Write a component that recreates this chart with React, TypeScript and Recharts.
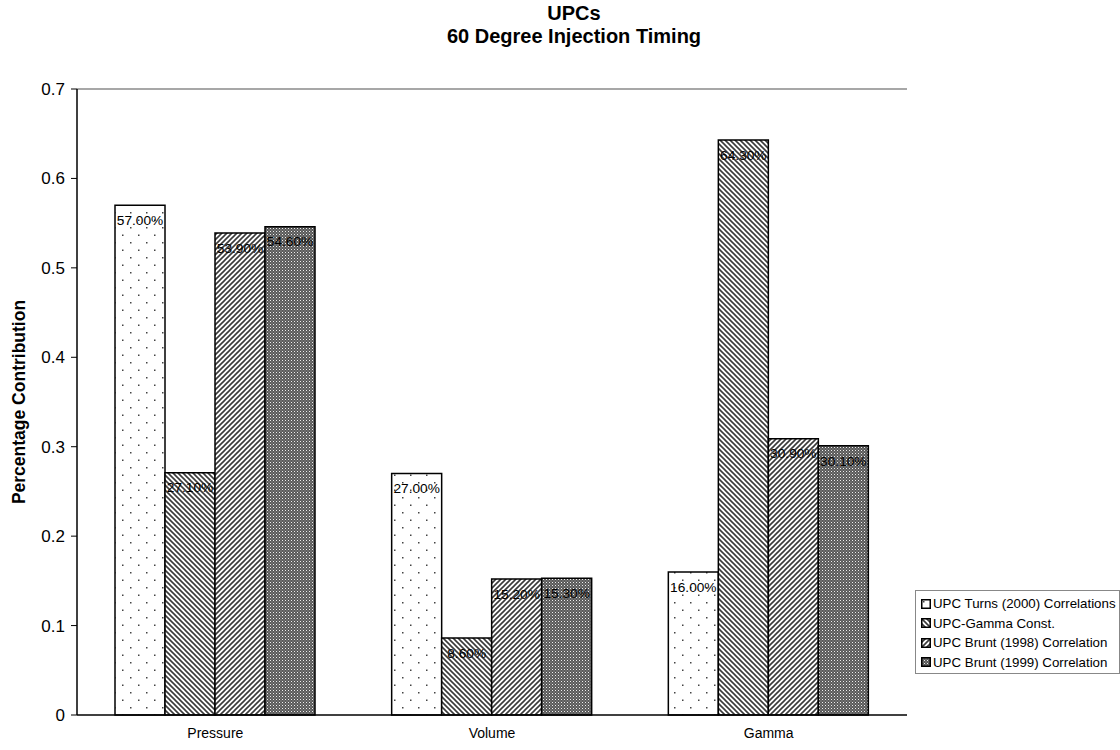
import {
  BarChart,
  Bar,
  XAxis,
  YAxis,
  LabelList,
  ReferenceLine,
} from "recharts";

const categories = ["Pressure", "Volume", "Gamma"];
const seriesNames = [
  "UPC Turns (2000) Correlations",
  "UPC-Gamma Const.",
  "UPC Brunt (1998) Correlation",
  "UPC Brunt (1999) Correlation",
];
const turns2000 = [0.57, 0.27, 0.16];
const gammaConst = [0.271, 0.086, 0.643];
const brunt1998 = [0.539, 0.152, 0.309];
const brunt1999 = [0.546, 0.153, 0.301];
const yTicks = [0, 0.1, 0.2, 0.3, 0.4, 0.5, 0.6, 0.7];

const keys = ["turns", "gamma", "b1998", "b1999"];
const fills = ["url(#pDots)", "url(#pBack)", "url(#pFwd)", "url(#pCheck)"];

const data = categories.map((name, i) => ({
  name,
  turns: turns2000[i],
  gamma: gammaConst[i],
  b1998: brunt1998[i],
  b1999: brunt1999[i],
}));

const FONT = "Arial, 'Liberation Sans', sans-serif";

const fmt = (v: any) => (Number(v) * 100).toFixed(2) + "%";

function Patterns() {
  return (
    <defs>
      <pattern id="pDots" width="16" height="15" patternUnits="userSpaceOnUse">
        <rect width="16" height="15" fill="#fff" />
        <rect x="2" y="2" width="1.5" height="1.5" fill="#444" />
        <rect x="10" y="9.5" width="1.5" height="1.5" fill="#444" />
      </pattern>
      <pattern id="pBack" width="5" height="5" patternUnits="userSpaceOnUse">
        <rect width="5" height="5" fill="#fff" />
        <path d="M-1,-1 L6,6 M-1,4 L1,6 M4,-1 L6,1" stroke="#3a3a3a" strokeWidth="1.6" />
      </pattern>
      <pattern id="pFwd" width="5" height="5" patternUnits="userSpaceOnUse">
        <rect width="5" height="5" fill="#fff" />
        <path d="M-1,6 L6,-1 M-1,1 L1,-1 M4,6 L6,4" stroke="#3a3a3a" strokeWidth="1.6" />
      </pattern>
      <pattern id="pCheck" width="3" height="3" patternUnits="userSpaceOnUse">
        <rect width="3" height="3" fill="#595959" />
        <rect x="0" y="0" width="1" height="1" fill="#eee" />
        <rect x="1.5" y="1.5" width="1" height="1" fill="#aaa" />
      </pattern>
    </defs>
  );
}

function LegendBox() {
  return (
    <div
      style={{
        position: "absolute",
        left: 915,
        top: 590,
        border: "1px solid #888",
        background: "#fff",
        padding: "3px 2px 1px 5px",
        fontFamily: FONT,
        fontSize: 13.3,
        color: "#000",
        width: 196,
        boxSizing: "content-box",
      }}
    >
      {seriesNames.map((s, i) => (
        <div key={s} style={{ display: "flex", alignItems: "center", height: 19.5, whiteSpace: "nowrap" }}>
          <svg width="10" height="10" style={{ marginRight: 2, flex: "none" }}>
            <rect x="0.75" y="0.75" width="8.5" height="8.5" fill={fills[i]} stroke="#000" strokeWidth="1.5" />
          </svg>
          <span>{s}</span>
        </div>
      ))}
    </div>
  );
}

export default function App() {
  return (
    <div style={{ position: "absolute", left: 0, top: 0, width: 1120, height: 750, background: "#fff" }}>
      <div
        style={{
          position: "absolute",
          left: 324,
          top: 2,
          width: 500,
          textAlign: "center",
          fontFamily: FONT,
          fontWeight: "bold",
          fontSize: 20,
          lineHeight: "23px",
        }}
      >
        <div>UPCs</div>
        <div>60 Degree Injection Timing</div>
      </div>
      <div
        style={{
          position: "absolute",
          left: 19,
          top: 402,
          transform: "translate(-50%, -50%) rotate(-90deg)",
          fontFamily: FONT,
          fontWeight: "bold",
          fontSize: 17.5,
          whiteSpace: "nowrap",
        }}
      >
        Percentage Contribution
      </div>
      <BarChart
        width={1120}
        height={750}
        data={data}
        margin={{ top: 89, right: 213, bottom: 5, left: 0 }}
        barGap={0}
        barSize={50}
        style={{ fontFamily: FONT, position: "absolute", left: 0, top: 0 }}
      >
        <Patterns />
        <XAxis
          dataKey="name"
          height={30}
          axisLine={{ stroke: "#000", strokeWidth: 1.5 }}
          tickLine={false}
          tick={{ fontSize: 14, fill: "#000" }}
          tickMargin={7}
          interval={0}
        />
        <XAxis
          xAxisId="bounds"
          type="number"
          domain={[0, 3]}
          ticks={[0, 1, 2, 3]}
          axisLine={false}
          tick={false}
          tickLine={{ stroke: "#000" }}
          tickSize={5}
          height={0}
        />
        <YAxis
          domain={[0, 0.7]}
          ticks={yTicks}
          width={77}
          axisLine={{ stroke: "#000", strokeWidth: 1.5 }}
          tickLine={{ stroke: "#000" }}
          tickSize={6}
          tickMargin={6}
          tick={{ fontSize: 17, fill: "#000" }}
          tickFormatter={(v: number) => (v === 0 ? "0" : String(v))}
        />
        <YAxis
          yAxisId="right"
          orientation="right"
          domain={[0, 0.7]}
          width={0}
          tick={false}
          tickLine={false}
          axisLine={{ stroke: "#8a8a8a", strokeWidth: 1.5 }}
        />
        <ReferenceLine y={0.7} stroke="#8a8a8a" strokeWidth={1.5} />
        {keys.map((k, i) => (
          <Bar
            key={k}
            dataKey={k}
            name={seriesNames[i]}
            fill={fills[i]}
            stroke="#000"
            strokeWidth={1.5}
            isAnimationActive={false}
          >
            <LabelList
              dataKey={k}
              position="insideTop"
              offset={10}
              formatter={fmt}
              style={{ fontSize: 13.7, fill: "#000", fontFamily: FONT }}
            />
          </Bar>
        ))}
      </BarChart>
      <LegendBox />
    </div>
  );
}
